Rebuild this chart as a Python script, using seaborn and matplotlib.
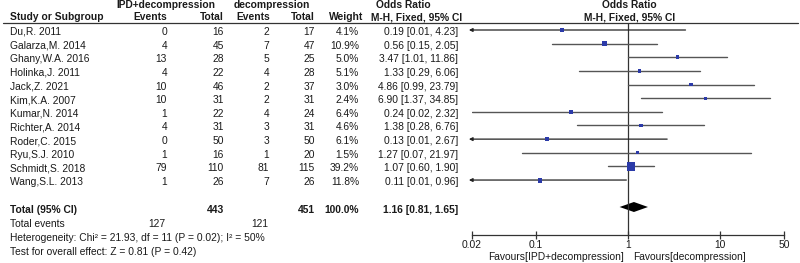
import numpy as np
import matplotlib
matplotlib.use("Agg")
import matplotlib.pyplot as plt
import seaborn as sns

# study level data
studies = ["Du,R. 2011", "Galarza,M. 2014", "Ghany,W.A. 2016", "Holinka,J. 2011",
           "Jack,Z. 2021", "Kim,K.A. 2007", "Kumar,N. 2014", "Richter,A. 2014",
           "Roder,C. 2015", "Ryu,S.J. 2010", "Schmidt,S. 2018", "Wang,S.L. 2013"]
ipd_events = [0, 4, 13, 4, 10, 10, 1, 4, 0, 1, 79, 1]
ipd_total = [16, 45, 28, 22, 46, 31, 22, 31, 50, 16, 110, 26]
dec_events = [2, 7, 5, 4, 2, 2, 4, 3, 3, 1, 81, 7]
dec_total = [17, 47, 25, 28, 37, 31, 24, 31, 50, 20, 115, 26]
weight = [4.1, 10.9, 5.0, 5.1, 3.0, 2.4, 6.4, 4.6, 6.1, 1.5, 39.2, 11.8]
odds = [0.19, 0.56, 3.47, 1.33, 4.86, 6.90, 0.24, 1.38, 0.13, 1.27, 1.07, 0.11]
lower = [0.01, 0.15, 1.01, 0.29, 0.99, 1.37, 0.02, 0.28, 0.01, 0.07, 0.60, 0.01]
upper = [4.23, 2.05, 11.86, 6.06, 23.79, 34.85, 2.32, 6.76, 2.67, 21.97, 1.90, 0.96]

# pooled result
total_ipd, total_dec = 443, 451
events_ipd, events_dec = 127, 121
pooled = (1.16, 0.81, 1.65)
x_ticks = [0.02, 0.1, 1, 10, 50]
x_tick_labels = ["0.02", "0.1", "1", "10", "50"]
heterogeneity = "Heterogeneity: Chi² = 21.93, df = 11 (P = 0.02); I² = 50%"
overall = "Test for overall effect: Z = 0.81 (P = 0.42)"

sns.set_theme(style="white")
plt.rcParams["font.family"] = ["Liberation Sans", "DejaVu Sans"]

W, H = 800, 263
fs = 7.4
tc = "#1a1a1a"
lc = "#555555"
fig = plt.figure(figsize=(8, 2.63), dpi=100)

# table part, in pixel coordinates
tab = fig.add_axes([0, 0, 1, 1])
tab.set_xlim(0, W)
tab.set_ylim(H, 0)
tab.axis("off")

def txt(x, y, s, ha="right", bold=False, **kw):
    tab.text(x, y, s, ha=ha, va="center", fontsize=fs, color=tc,
             fontweight="bold" if bold else "normal", **kw)

# headers
txt(166, 5, "IPD+decompression", ha="center", bold=True)
txt(272, 5, "decompression", ha="center", bold=True)
txt(403, 5, "Odds Ratio", ha="center", bold=True)
txt(629, 5, "Odds Ratio", ha="center", bold=True)
txt(10, 17, "Study or Subgroup", ha="left", bold=True)
txt(167, 17, "Events", bold=True)
txt(224, 17, "Total", bold=True)
txt(270, 17, "Events", bold=True)
txt(315, 17, "Total", bold=True)
txt(363, 17, "Weight", bold=True)
txt(462, 17, "M-H, Fixed, 95% CI", bold=True)
txt(630, 17, "M-H, Fixed, 95% CI", ha="center", bold=True)
tab.plot([3, 798], [22.5, 22.5], color="#333333", lw=0.9)

row_y = 30 + 13.64 * np.arange(len(studies))
for i, y in enumerate(row_y):
    ty = y + 2
    txt(10, ty, studies[i], ha="left")
    txt(167, ty, str(ipd_events[i]))
    txt(224, ty, str(ipd_total[i]))
    txt(269, ty, str(dec_events[i]))
    txt(315, ty, str(dec_total[i]))
    txt(359, ty, f"{weight[i]:.1f}%")
    txt(458, ty, f"{odds[i]:.2f} [{lower[i]:.2f}, {upper[i]:.2f}]")

total_y = 210
txt(10, total_y, "Total (95% CI)", ha="left", bold=True)
txt(224, total_y, str(total_ipd), bold=True)
txt(315, total_y, str(total_dec), bold=True)
txt(359, total_y, "100.0%", bold=True)
txt(458, total_y, f"{pooled[0]:.2f} [{pooled[1]:.2f}, {pooled[2]:.2f}]", bold=True)
txt(10, 224, "Total events", ha="left")
txt(165, 224, str(events_ipd))
txt(268, 224, str(events_dec))
txt(10, 238, heterogeneity, ha="left")
txt(10, 252, overall, ha="left")
txt(624, 257, "Favours[IPD+decompression]")
txt(633, 257, "Favours[decompression]", ha="left")

# forest part
y_top, y_bot, x_l, x_r = 22.5, 234.5, 472, 784
ax = fig.add_axes([x_l / W, (H - y_bot) / H, (x_r - x_l) / W, (y_bot - y_top) / H])
ax.patch.set_alpha(0)
ax.set_xscale("log")
ax.set_xlim(0.02, 50)
ax.set_ylim(y_bot, y_top)
ax.axvline(1, color="#333333", lw=0.9)

for i, y in enumerate(row_y):
    lo, hi = lower[i], upper[i]
    if lo < 0.02:
        ax.annotate("", xy=(0.0185, y), xytext=(hi, y), annotation_clip=False,
                    arrowprops=dict(arrowstyle="-|>", color="#222222", lw=0.9,
                                    mutation_scale=5, shrinkA=0, shrinkB=0))
    else:
        ax.plot([lo, hi], [y, y], color=lc, lw=1.0)

sns.scatterplot(x=odds, y=row_y, size=weight, sizes=(4.0, 36), size_norm=(1.5, 39.2),
                marker="s", color="#2b3aa8", linewidth=0, legend=False, ax=ax, zorder=3)

est, lo, hi = pooled
dy = 207
ax.fill([lo, est, hi, est], [dy, dy - 5, dy, dy + 5], color="black", lw=0)

for s in ["top", "right", "left"]:
    ax.spines[s].set_visible(False)
ax.spines["bottom"].set_color("#333333")
ax.spines["bottom"].set_linewidth(0.9)
ax.set_xticks(x_ticks)
ax.set_xticklabels(x_tick_labels)
ax.minorticks_off()
ax.tick_params(axis="x", direction="inout", length=6, width=0.9, color="#333333",
               labelsize=fs, labelcolor=tc, pad=1, bottom=True)
ax.set_yticks([])

fig.savefig("out.png", dpi=100)
